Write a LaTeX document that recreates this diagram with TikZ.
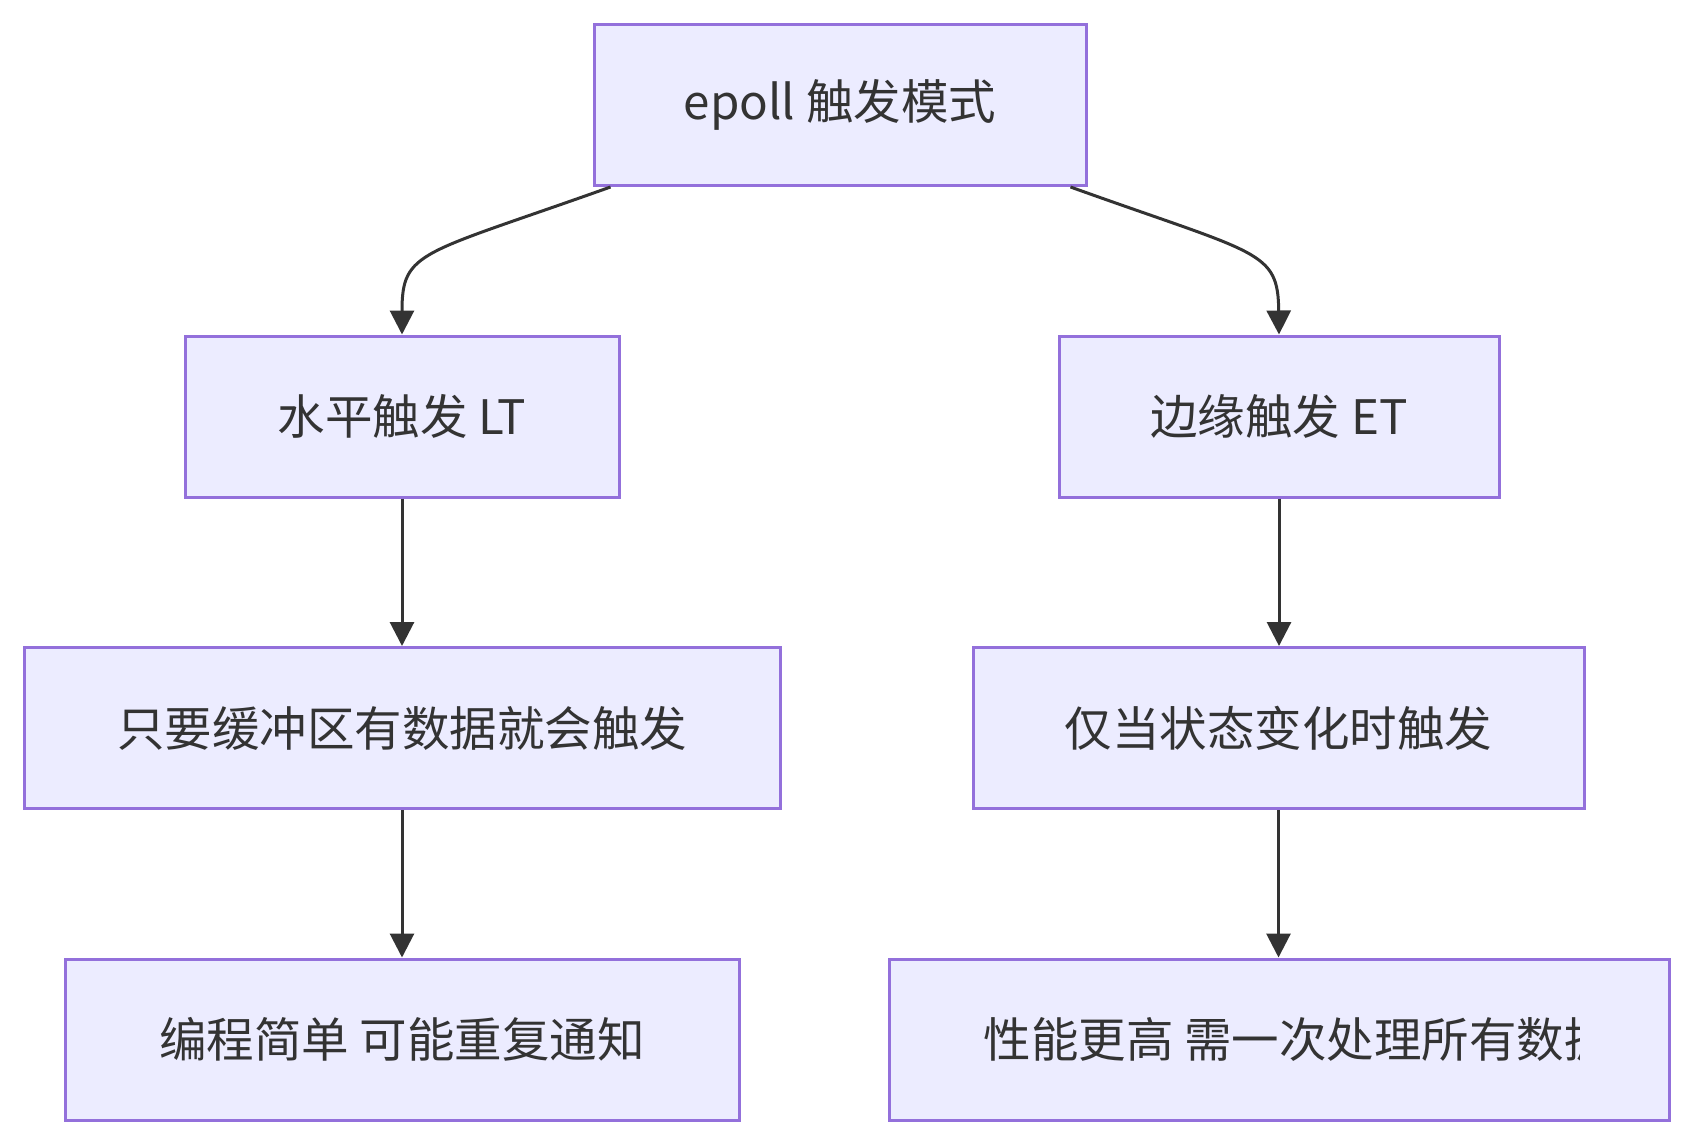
\documentclass[tikz,border=0pt]{standalone}
\usepackage{fontspec}
\usepackage{xcolor}
\usepackage{tikz}
\usetikzlibrary{arrows.meta, positioning}
\newfontfamily\cjk{Noto Sans CJK SC}
\definecolor{boxfill}{HTML}{ECECFF}
\definecolor{boxline}{HTML}{9370DB}
\definecolor{arrline}{HTML}{333333}

\begin{document}
\begin{tikzpicture}[x=1pt, y=-1pt,
		every node/.style={font=\cjk\fontsize{47.5}{57}\selectfont, text=arrline},
		modebox/.style={draw=boxline, fill=boxfill, line width=3pt, minimum height=161pt, inner sep=0pt},
		arr/.style={draw=arrline, line width=3pt, -{Triangle[length=24pt,width=24pt]}}]
		\useasboundingbox (0,0) rectangle (1693,1145);
		%% top
		\node[modebox, minimum width=492pt] (mode) at (840,105) {epoll 触发模式};
		%% left branch
		\node[modebox, minimum width=434pt] (lt) at (402,416.5) {水平触发 LT};
		\node[modebox, minimum width=756pt] (ltfire) at (402,728) {只要缓冲区有数据就会触发};
		\node[modebox, minimum width=674pt] (ltnote) at (402,1039.5) {编程简单 可能重复通知};
		%% right branch
		\node[modebox, minimum width=440pt] (et) at (1279,416.5) {边缘触发 ET};
		\node[modebox, minimum width=611pt] (etfire) at (1278.5,728) {仅当状态变化时触发};
		\node[modebox, minimum width=780pt] (etnote) at (1279,1039.5) {};
		\begin{scope}
			\clip (980,960) rectangle (1579,1119);
			\node[anchor=west] (etnotetext) at (980,1039.5) {性能更高 需一次处理所有数据};
		\end{scope}
		
		\draw[arr] ([xshift=18pt]mode.south west) .. controls (420,255) and (402,250) .. (lt.north);
		\draw[arr] ([xshift=-17pt]mode.south east) .. controls (1260,255) and (1278,250) .. (et.north);
		\draw[arr] (lt) -- (ltfire);
		\draw[arr] (ltfire) -- (ltnote);
		\draw[arr] (et) -- (et |- etfire.north);
		\draw[arr] (etfire) -- (etfire |- etnote.north);
		\end{tikzpicture}
\end{document}
